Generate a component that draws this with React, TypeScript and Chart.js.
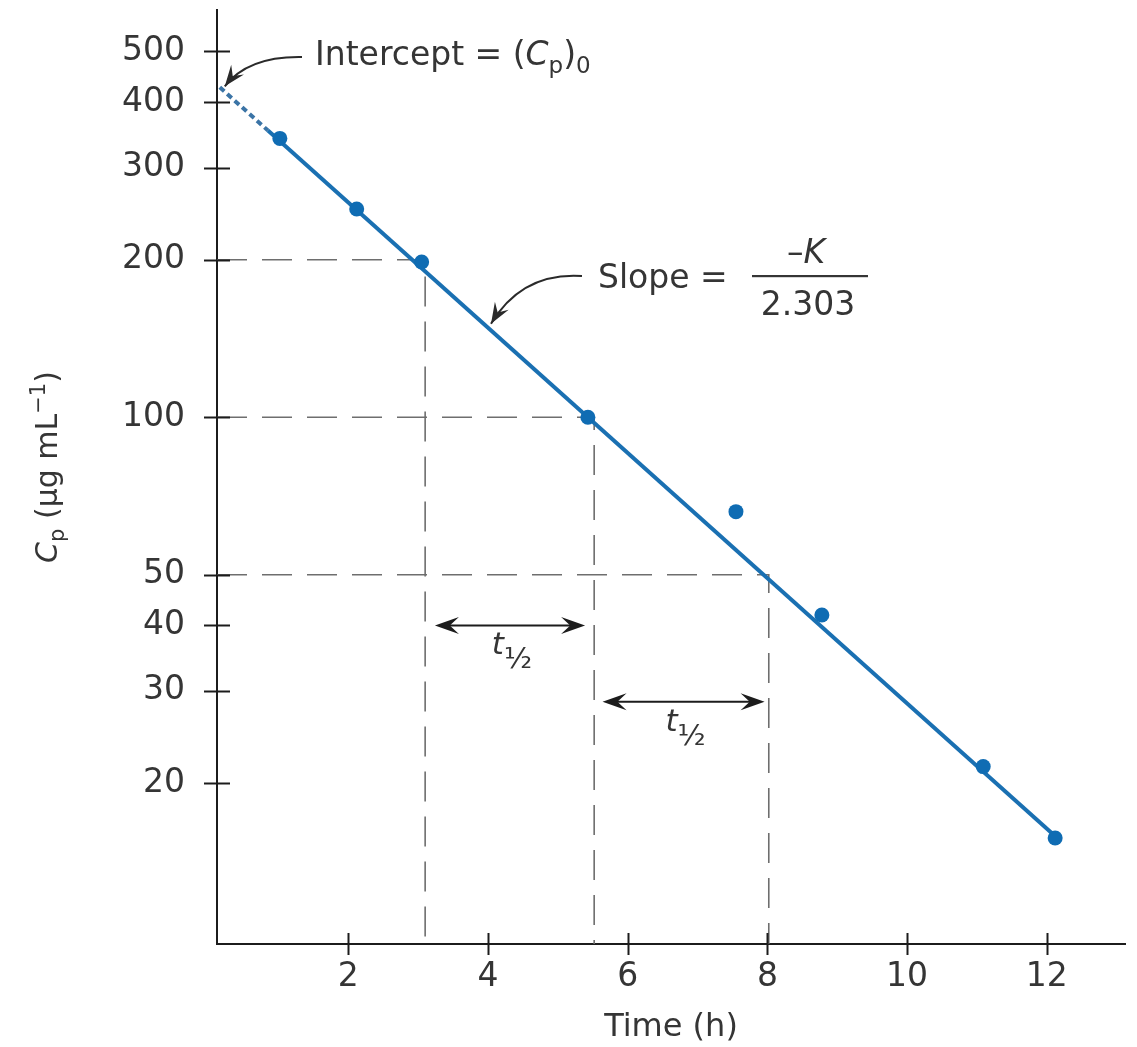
import React, { useEffect, useRef } from 'react';
import { Chart, registerables } from 'chart.js';

Chart.register(...registerables);

// ---------------- data ----------------
const sampleTimes = [1.02, 2.12, 3.05, 5.43, 7.55, 8.78, 11.09, 12.12];
const sampleConc = [341, 250, 198, 100, 66, 41.9, 21.5, 15.7];

const fitTimes = [0.16, 0.85, 12.15];
const fitConc = [427, 353, 15.7];

const guideConc = [200, 100, 50];
const guideTimes = [3.1, 5.52, 8.02];

const halfLifeStart = [3.24, 5.64];
const halfLifeEnd = [5.39, 7.96];
const halfLifeConc = [40, 28.6];

const yTickValues = [20, 30, 40, 50, 100, 200, 300, 400, 500];
const xTickValues = [2, 4, 6, 8, 10, 12];

const X_MIN = 0.12;
const X_MAX = 13.12;
const Y_MIN = 9.85;
const Y_MAX = 600;

// ---------------- styles ----------------
const FONT = '"DejaVu Sans", sans-serif';
const TEXT = '#353535';
const INK = '#1c1c1c';
const BLUE_LINE = '#1a70b2';
const BLUE_DOT = '#0f6cb3';

type Part = { t: string; italic?: boolean; size?: number; shift?: number };

function drawParts(ctx: CanvasRenderingContext2D, parts: Part[], x: number, y: number, base: number, align: 'left' | 'center' = 'left') {
  const fonts = parts.map((p) => `${p.italic ? 'italic ' : ''}${p.size ?? base}px ${FONT}`);
  let total = 0;
  parts.forEach((p, i) => {
    ctx.font = fonts[i];
    total += ctx.measureText(p.t).width;
  });
  let cx = align === 'center' ? x - total / 2 : x;
  ctx.textAlign = 'left';
  ctx.textBaseline = 'alphabetic';
  parts.forEach((p, i) => {
    ctx.font = fonts[i];
    ctx.fillText(p.t, cx, y + (p.shift ?? 0));
    cx += ctx.measureText(p.t).width;
  });
}

function arrowHead(ctx: CanvasRenderingContext2D, tx: number, ty: number, ang: number, len: number, w: number) {
  const c = Math.cos(ang);
  const s = Math.sin(ang);
  const nx = -s;
  const ny = c;
  const bx = tx - c * len;
  const by = ty - s * len;
  ctx.beginPath();
  ctx.moveTo(tx, ty);
  ctx.lineTo(bx + nx * w, by + ny * w);
  ctx.lineTo(tx - c * len * 0.62, ty - s * len * 0.62);
  ctx.lineTo(bx - nx * w, by - ny * w);
  ctx.closePath();
  ctx.fill();
}

function curvedArrow(ctx: CanvasRenderingContext2D, sx: number, sy: number, cx: number, cy: number, tx: number, ty: number) {
  ctx.beginPath();
  ctx.moveTo(sx, sy);
  ctx.quadraticCurveTo(cx, cy, tx, ty);
  ctx.stroke();
  const ang = Math.atan2(ty - cy, tx - cx);
  arrowHead(ctx, tx, ty, ang, 21, 8);
}

const annotationPlugin = {
  id: 'pkAnnotations',
  afterDraw(chart: any) {
    const { ctx, chartArea } = chart;
    const xs = chart.scales.x;
    const ys = chart.scales.y;
    const X = (v: number) => xs.getPixelForValue(v);
    const Y = (v: number) => ys.getPixelForValue(v);
    ctx.save();

    // tick marks crossing the axes
    ctx.strokeStyle = INK;
    ctx.lineWidth = 2;
    yTickValues.forEach((v) => {
      const p = Math.round(Y(v)) + 0.5;
      ctx.beginPath();
      ctx.moveTo(chartArea.left - 13, p);
      ctx.lineTo(chartArea.left + 13, p);
      ctx.stroke();
    });
    xTickValues.forEach((v) => {
      const p = Math.round(X(v)) + 0.5;
      ctx.beginPath();
      ctx.moveTo(p, chartArea.bottom - 11);
      ctx.lineTo(p, chartArea.bottom + 11);
      ctx.stroke();
    });

    // half-life double arrows
    ctx.fillStyle = INK;
    ctx.strokeStyle = INK;
    ctx.lineWidth = 2.2;
    halfLifeConc.forEach((c, i) => {
      const yy = Y(c);
      const x1 = X(halfLifeStart[i]);
      const x2 = X(halfLifeEnd[i]);
      ctx.beginPath();
      ctx.moveTo(x1 + 8, yy);
      ctx.lineTo(x2 - 8, yy);
      ctx.stroke();
      arrowHead(ctx, x1, yy, Math.PI, 24, 8.5);
      arrowHead(ctx, x2, yy, 0, 24, 8.5);
      ctx.fillStyle = TEXT;
      drawParts(ctx, [{ t: 't', italic: true }, { t: '½', size: 29, shift: 14 }], (x1 + x2) / 2 + 2, yy + 29, 31, 'center');
      ctx.fillStyle = INK;
    });

    // intercept annotation
    ctx.fillStyle = TEXT;
    drawParts(
      ctx,
      [
        { t: 'Intercept = (' },
        { t: 'C', italic: true },
        { t: 'p', size: 23, shift: 8 },
        { t: ')' },
        { t: '0', size: 23, shift: 8 },
      ],
      315,
      65,
      33
    );
    ctx.strokeStyle = '#2a2a2a';
    ctx.fillStyle = '#2a2a2a';
    ctx.lineWidth = 2;
    const ix = X(fitTimes[0]) + 5;
    const iy = Y(fitConc[0]) - 1;
    curvedArrow(ctx, 302, 57, 248, 56, ix, iy);

    // slope annotation
    ctx.fillStyle = TEXT;
    drawParts(ctx, [{ t: 'Slope =' }], 598, 288, 33);
    drawParts(ctx, [{ t: '–' }, { t: 'K', italic: true }], 806, 263, 33, 'center');
    ctx.fillRect(752, 275, 116, 2.2);
    drawParts(ctx, [{ t: '2.303' }], 808, 315, 33, 'center');
    ctx.strokeStyle = '#2a2a2a';
    ctx.fillStyle = '#2a2a2a';
    const st = 4.0;
    const sv = fitConc[1] * Math.pow(fitConc[2] / fitConc[1], (st - fitTimes[1]) / (fitTimes[2] - fitTimes[1]));
    curvedArrow(ctx, 582, 276, 522, 272, X(st) + 3, Y(sv) - 4);

    // y-axis title
    ctx.fillStyle = TEXT;
    ctx.translate(57, (chartArea.top + chartArea.bottom) / 2 - 10);
    ctx.rotate(-Math.PI / 2);
    drawParts(
      ctx,
      [
        { t: 'C', italic: true },
        { t: 'p', size: 21, shift: 7 },
        { t: ' (μg mL' },
        { t: '−1', size: 21, shift: -12 },
        { t: ')' },
      ],
      0,
      0,
      30,
      'center'
    );
    ctx.restore();
  },
};

export default function App() {
  const ref = useRef<HTMLCanvasElement>(null);

  useEffect(() => {
    if (!ref.current) return;
    const pts = sampleTimes.map((t, i) => ({ x: t, y: sampleConc[i] }));
    const solidFit = [1, 2].map((i) => ({ x: fitTimes[i], y: fitConc[i] }));
    const dottedFit = [0, 1].map((i) => ({ x: fitTimes[i], y: fitConc[i] }));
    const guides = guideConc.map((c, i) => ({
      label: `guide ${c}`,
      data: [
        { x: X_MIN, y: c },
        { x: guideTimes[i], y: c },
        { x: guideTimes[i], y: Y_MIN },
      ],
      showLine: true,
      borderColor: '#6e6e6e',
      borderWidth: 1.6,
      borderDash: [30, 15],
      pointRadius: 0,
      order: 5,
    }));

    const chart = new Chart(ref.current, {
      type: 'scatter',
      data: {
        datasets: [
          {
            label: 'Cp',
            data: pts,
            showLine: false,
            pointRadius: 7.5,
            pointBackgroundColor: BLUE_DOT,
            pointBorderWidth: 0,
            order: 0,
          },
          {
            label: 'fit',
            data: solidFit,
            showLine: true,
            borderColor: BLUE_LINE,
            borderWidth: 4,
            pointRadius: 0,
            order: 1,
          },
          {
            label: 'extrapolation',
            data: dottedFit,
            showLine: true,
            borderColor: '#3b74a6',
            borderWidth: 4,
            borderDash: [6, 4],
            pointRadius: 0,
            order: 1,
          },
          ...guides,
        ] as any,
      },
      options: {
        animation: false,
        responsive: false,
        devicePixelRatio: 1,
        events: [],
        layout: { padding: { left: 0, right: 12, top: 10, bottom: 0 } },
        plugins: { legend: { display: false }, tooltip: { enabled: false } },
        scales: {
          x: {
            type: 'linear',
            min: X_MIN,
            max: X_MAX,
            afterBuildTicks: (s: any) => {
              s.ticks = xTickValues.map((v) => ({ value: v }));
            },
            afterFit: (s: any) => {
              s.height = 103;
              s.paddingLeft = 0;
              s.paddingRight = 0;
            },
            grid: { display: true, drawOnChartArea: false, drawTicks: false },
            border: { display: true, color: INK, width: 2 },
            ticks: {
              padding: 14,
              color: TEXT,
              font: { family: FONT, size: 33 },
              maxRotation: 0,
              autoSkip: false,
              callback: (v: any) => String(v),
            },
            title: {
              display: true,
              text: 'Time (h)',
              color: TEXT,
              font: { family: FONT, size: 32 },
              padding: { top: 0, bottom: 0 },
            },
          },
          y: {
            type: 'logarithmic',
            min: Y_MIN,
            max: Y_MAX,
            afterBuildTicks: (s: any) => {
              s.ticks = yTickValues.map((v) => ({ value: v }));
            },
            afterFit: (s: any) => {
              s.width = 217;
              s.paddingTop = 0;
              s.paddingBottom = 0;
            },
            grid: { display: true, drawOnChartArea: false, drawTicks: false },
            border: { display: true, color: INK, width: 2 },
            ticks: {
              padding: 32,
              color: TEXT,
              font: { family: FONT, size: 33 },
              autoSkip: false,
              callback: (v: any) => String(v),
            },
          },
        },
      } as any,
      plugins: [annotationPlugin],
    });
    return () => chart.destroy();
  }, []);

  return (
    <div style={{ position: 'absolute', left: 0, top: 0, width: 1137, height: 1047, background: '#fff' }}>
      <canvas ref={ref} width={1137} height={1047} style={{ display: 'block', width: 1137, height: 1047 }} />
    </div>
  );
}
